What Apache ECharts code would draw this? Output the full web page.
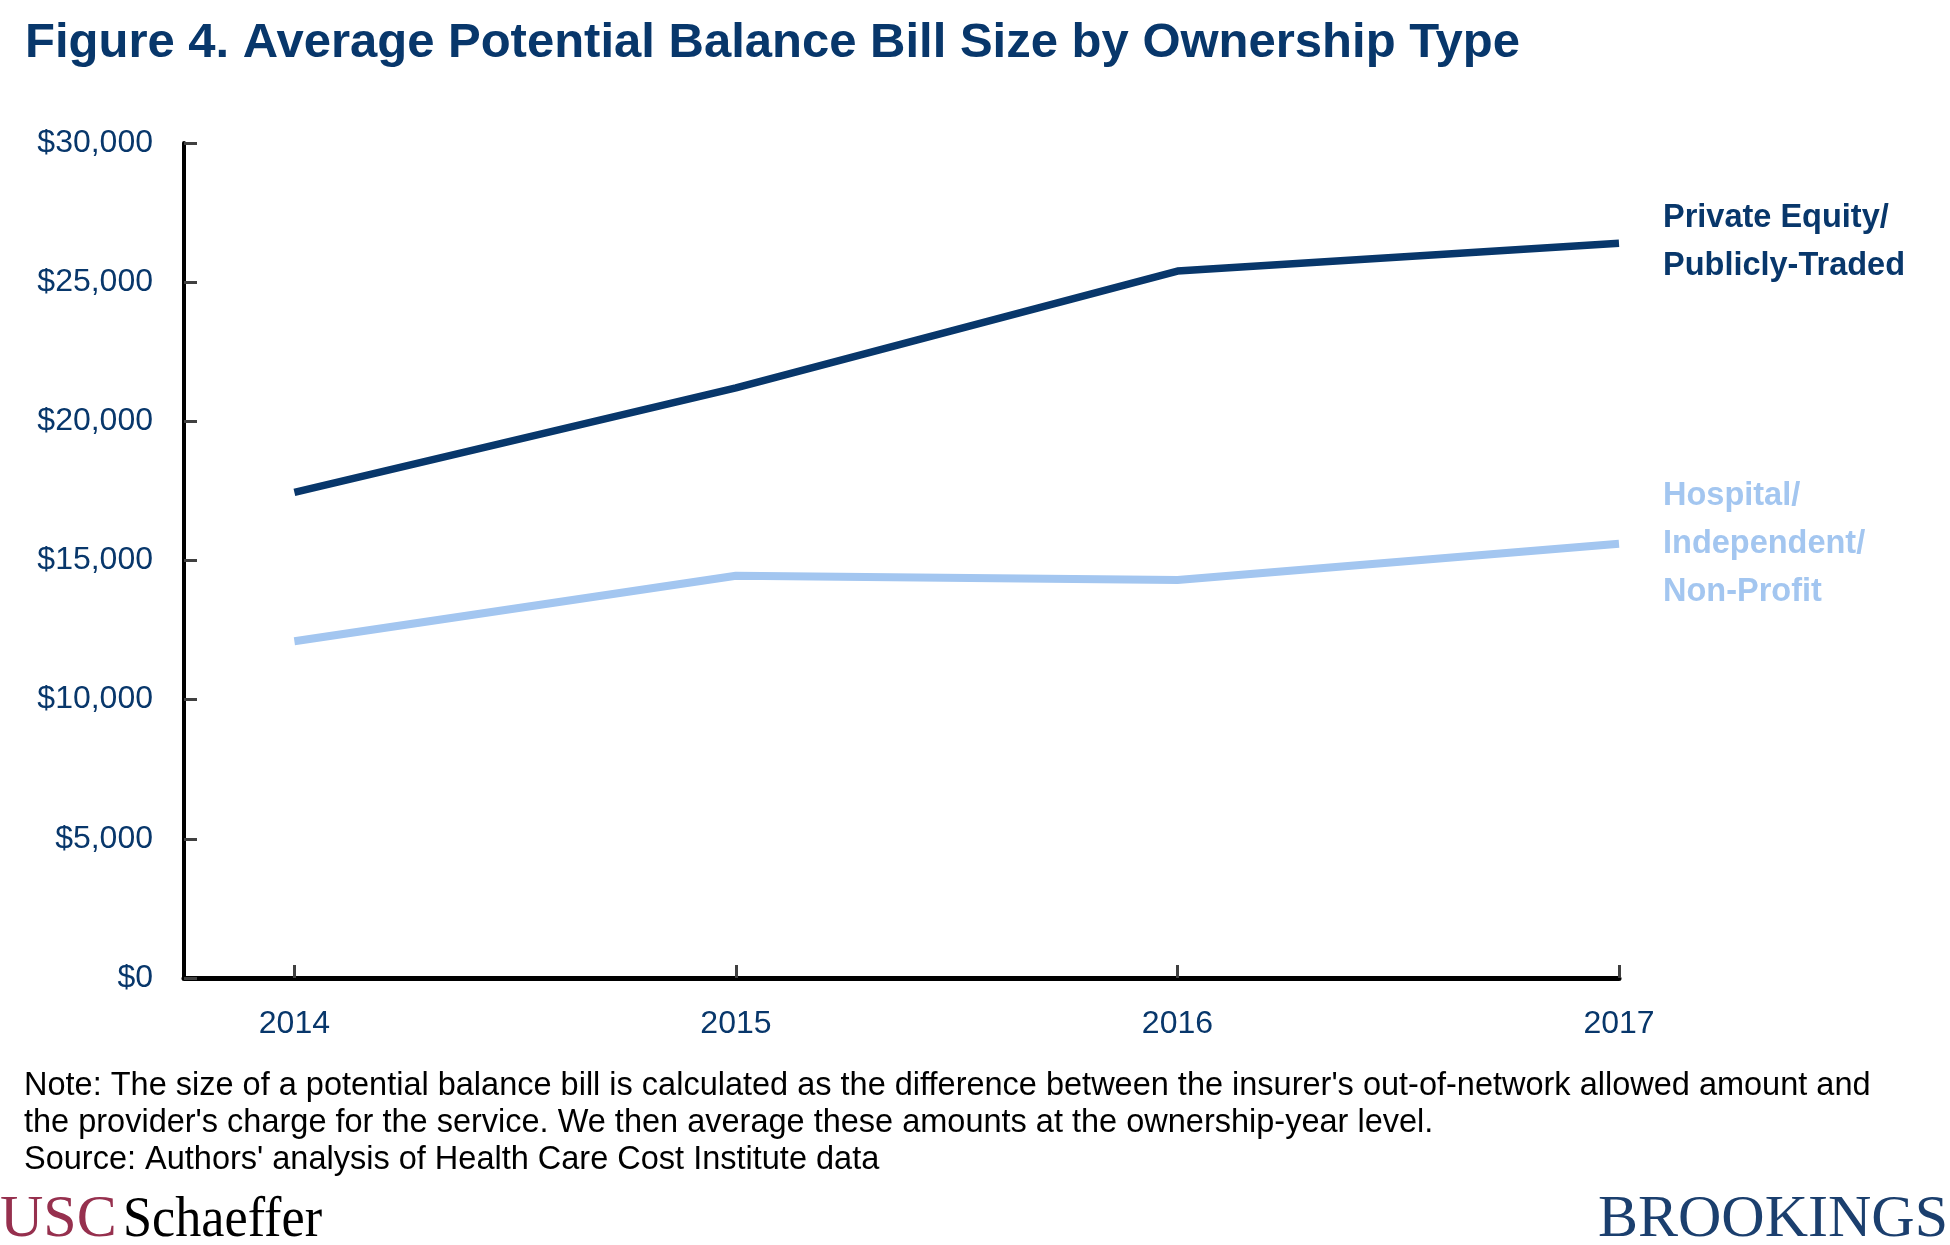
<!DOCTYPE html>
<html>
<head>
<meta charset="utf-8">
<script src="https://cdn.jsdelivr.net/npm/echarts@6/dist/echarts.min.js"></script>
<style>html,body{margin:0;padding:0;background:#fff;}#c{width:1950px;height:1245px;}</style>
</head>
<body>
<div id="c"></div>
<script>
const years = [2014, 2015, 2016, 2017];
const privateEquity = [17450, 21200, 25400, 26400];
const hospital = [12100, 14450, 14300, 15600];
const yTicks = [0, 5000, 10000, 15000, 20000, 25000, 30000];

const NAVY = '#08376b';
const LIGHT = '#a3c6f0';
const FONT = '"Liberation Sans", Arial, sans-serif';
const SERIF = '"Liberation Serif", "Times New Roman", serif';

const chart = echarts.init(document.getElementById('c'));
chart.setOption({
  animation: false,
  backgroundColor: '#fff',
  grid: { left: 184, right: 331, top: 143, bottom: 267, containLabel: false },
  xAxis: {
    type: 'value', min: 2013.75, max: 2017,
    splitLine: { show: false },
    axisLine: { show: true, lineStyle: { color: '#000', width: 5 } },
    axisTick: { show: true, inside: true, length: 13, customValues: years, lineStyle: { color: '#404040', width: 3 } },
    axisLabel: { customValues: years, margin: 30, color: NAVY, fontFamily: FONT, fontSize: 32, formatter: v => String(v) }
  },
  yAxis: {
    type: 'value', min: 0, max: 30000, interval: 5000,
    splitLine: { show: false },
    axisLine: { show: true, lineStyle: { color: '#000', width: 4 } },
    axisTick: { show: true, inside: true, length: 13, lineStyle: { color: '#404040', width: 3 } },
    axisLabel: { margin: 31, color: NAVY, fontFamily: FONT, fontSize: 32, padding: [5, 0, 0, 0],
      formatter: v => '$' + v.toLocaleString('en-US') }
  },
  series: [
    { type: 'line', name: 'Private Equity/Publicly-Traded', data: years.map((y, i) => [y, privateEquity[i]]),
      showSymbol: false, lineStyle: { color: NAVY, width: 7.5 }, z: 3 },
    { type: 'line', name: 'Hospital/Independent/Non-Profit', data: years.map((y, i) => [y, hospital[i]]),
      showSymbol: false, lineStyle: { color: LIGHT, width: 8 }, z: 2 }
  ],
  graphic: [
    { type: 'text', left: 25, top: 19, style: { text: 'Figure 4. Average Potential Balance Bill Size by Ownership Type', fill: NAVY, font: 'bold 49px ' + FONT } },
    { type: 'text', left: 1663, top: 194, style: { text: 'Private Equity/\nPublicly-Traded', fill: NAVY, font: 'bold 32.5px ' + FONT, lineHeight: 48 } },
    { type: 'text', left: 1663, top: 472, style: { text: 'Hospital/\nIndependent/\nNon-Profit', fill: LIGHT, font: 'bold 32.5px ' + FONT, lineHeight: 48 } },
    { type: 'text', left: 24, top: 1067, style: { text: "Note: The size of a potential balance bill is calculated as the difference between the insurer's out-of-network allowed amount and\nthe provider's charge for the service. We then average these amounts at the ownership-year level.\nSource: Authors' analysis of Health Care Cost Institute data", fill: '#000', font: '32.5px ' + FONT, lineHeight: 37.3 } },
    { type: 'text', left: 0, top: 1190, style: { text: 'USC', fill: '#96304e', font: '60px ' + SERIF } },
    { type: 'text', left: 123, top: 1192, scaleX: 0.9, style: { text: 'Schaeffer', fill: '#000', font: '58px ' + SERIF } },
    { type: 'text', right: 2, top: 1190, style: { text: 'BROOKINGS', fill: '#1b3f6e', font: '60px ' + SERIF } }
  ]
});
</script>
</body>
</html>
